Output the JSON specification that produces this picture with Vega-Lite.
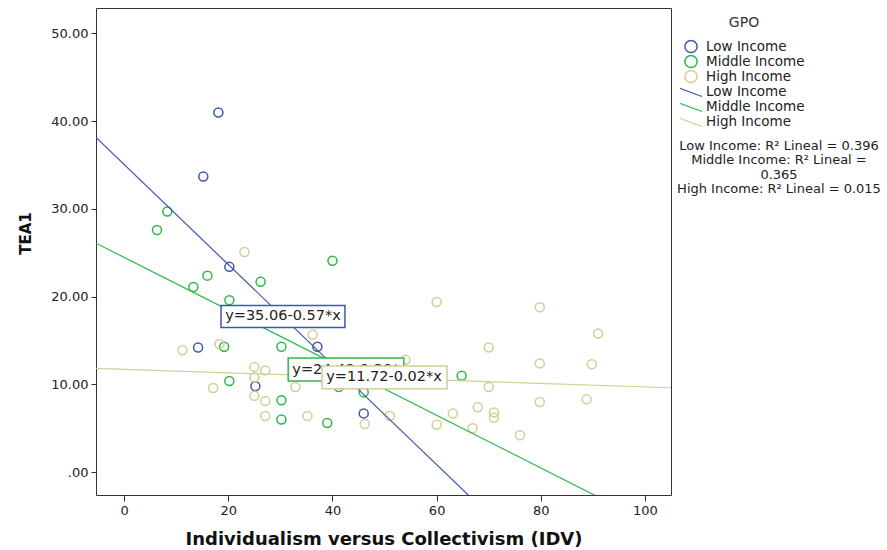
{
  "$schema": "https://vega.github.io/schema/vega-lite/v6.json",
  "width": 575,
  "height": 487,
  "autosize": "none",
  "padding": {"left": 96, "top": 8, "right": 216, "bottom": 55},
  "background": "white",
  "datasets": {
    "points": [
      {"GPO": "Low Income", "IDV": 18.1, "TEA1": 41.0},
      {"GPO": "Low Income", "IDV": 15.2, "TEA1": 33.7},
      {"GPO": "Low Income", "IDV": 20.2, "TEA1": 23.4},
      {"GPO": "Low Income", "IDV": 14.2, "TEA1": 14.2},
      {"GPO": "Low Income", "IDV": 25.2, "TEA1": 9.8},
      {"GPO": "Low Income", "IDV": 37.1, "TEA1": 14.3},
      {"GPO": "Low Income", "IDV": 46.0, "TEA1": 6.7},
      {"GPO": "Middle Income", "IDV": 8.3, "TEA1": 29.7},
      {"GPO": "Middle Income", "IDV": 6.3, "TEA1": 27.6},
      {"GPO": "Middle Income", "IDV": 16.0, "TEA1": 22.4},
      {"GPO": "Middle Income", "IDV": 13.3, "TEA1": 21.1},
      {"GPO": "Middle Income", "IDV": 26.2, "TEA1": 21.7},
      {"GPO": "Middle Income", "IDV": 20.2, "TEA1": 19.6},
      {"GPO": "Middle Income", "IDV": 40.0, "TEA1": 24.1},
      {"GPO": "Middle Income", "IDV": 19.2, "TEA1": 14.3},
      {"GPO": "Middle Income", "IDV": 30.2, "TEA1": 14.3},
      {"GPO": "Middle Income", "IDV": 20.2, "TEA1": 10.4},
      {"GPO": "Middle Income", "IDV": 30.2, "TEA1": 8.2},
      {"GPO": "Middle Income", "IDV": 30.2, "TEA1": 6.0},
      {"GPO": "Middle Income", "IDV": 39.0, "TEA1": 5.6},
      {"GPO": "Middle Income", "IDV": 64.8, "TEA1": 11.0},
      {"GPO": "Middle Income", "IDV": 46.0, "TEA1": 9.1},
      {"GPO": "Middle Income", "IDV": 41.2, "TEA1": 9.7},
      {"GPO": "High Income", "IDV": 23.1, "TEA1": 25.1},
      {"GPO": "High Income", "IDV": 11.2, "TEA1": 13.9},
      {"GPO": "High Income", "IDV": 18.3, "TEA1": 14.6},
      {"GPO": "High Income", "IDV": 25.0, "TEA1": 12.0},
      {"GPO": "High Income", "IDV": 27.1, "TEA1": 11.6},
      {"GPO": "High Income", "IDV": 25.0, "TEA1": 10.8},
      {"GPO": "High Income", "IDV": 25.0, "TEA1": 8.7},
      {"GPO": "High Income", "IDV": 27.1, "TEA1": 8.1},
      {"GPO": "High Income", "IDV": 17.1, "TEA1": 9.6},
      {"GPO": "High Income", "IDV": 27.1, "TEA1": 6.4},
      {"GPO": "High Income", "IDV": 32.9, "TEA1": 9.7},
      {"GPO": "High Income", "IDV": 36.2, "TEA1": 15.7},
      {"GPO": "High Income", "IDV": 35.2, "TEA1": 6.4},
      {"GPO": "High Income", "IDV": 46.2, "TEA1": 5.5},
      {"GPO": "High Income", "IDV": 51.0, "TEA1": 6.4},
      {"GPO": "High Income", "IDV": 54.0, "TEA1": 12.8},
      {"GPO": "High Income", "IDV": 60.0, "TEA1": 19.4},
      {"GPO": "High Income", "IDV": 63.1, "TEA1": 6.7},
      {"GPO": "High Income", "IDV": 60.0, "TEA1": 5.4},
      {"GPO": "High Income", "IDV": 66.9, "TEA1": 5.0},
      {"GPO": "High Income", "IDV": 79.8, "TEA1": 18.8},
      {"GPO": "High Income", "IDV": 91.0, "TEA1": 15.8},
      {"GPO": "High Income", "IDV": 70.0, "TEA1": 14.2},
      {"GPO": "High Income", "IDV": 79.8, "TEA1": 12.4},
      {"GPO": "High Income", "IDV": 89.8, "TEA1": 12.3},
      {"GPO": "High Income", "IDV": 70.0, "TEA1": 9.7},
      {"GPO": "High Income", "IDV": 79.8, "TEA1": 8.0},
      {"GPO": "High Income", "IDV": 88.8, "TEA1": 8.3},
      {"GPO": "High Income", "IDV": 67.9, "TEA1": 7.4},
      {"GPO": "High Income", "IDV": 71.0, "TEA1": 6.8},
      {"GPO": "High Income", "IDV": 71.0, "TEA1": 6.2},
      {"GPO": "High Income", "IDV": 76.0, "TEA1": 4.2}
    ],
    "fits": [
      {"Fit": "Low Income (fit)", "IDV": -5.4, "TEA1": 38.14},
      {"Fit": "Low Income (fit)", "IDV": 105, "TEA1": -24.79},
      {"Fit": "Middle Income (fit)", "IDV": -5.4, "TEA1": 26.10},
      {"Fit": "Middle Income (fit)", "IDV": 105, "TEA1": -7.02},
      {"Fit": "High Income (fit)", "IDV": -5.4, "TEA1": 11.83},
      {"Fit": "High Income (fit)", "IDV": 105, "TEA1": 9.62}
    ],
    "labels": [
      {"GPO": "Low Income", "eq": "y=35.06-0.57*x", "x0": 18.6, "x1": 42.4, "y0": 16.5, "y1": 19.0, "tx": 19.4, "ty": 17.75},
      {"GPO": "Middle Income", "eq": "y=24.48-0.30*x", "x0": 31.5, "x1": 53.7, "y0": 10.4, "y1": 13.0, "tx": 32.3, "ty": 11.7},
      {"GPO": "High Income", "eq": "y=11.72-0.02*x", "x0": 38.0, "x1": 62.0, "y0": 9.5, "y1": 12.1, "tx": 38.8, "ty": 10.8}
    ],
    "r2": [
      {"R2": "Low Income: R² Lineal = 0.396"},
      {"R2": "Middle Income: R² Lineal = 0.365"},
      {"R2": "High Income: R² Lineal = 0.015"}
    ]
  },
  "config": {
    "font": "DejaVu Sans",
    "view": {"stroke": "#333", "strokeWidth": 1},
    "axis": {
      "domain": false,
      "grid": false,
      "tickColor": "#333",
      "labelColor": "#222",
      "labelFontSize": 13,
      "titleColor": "#111",
      "titleFontWeight": "bold"
    },
    "legend": {
      "padding": 0,
      "labelFontSize": 13.5,
      "labelColor": "#222",
      "titleFontSize": 14,
      "titleFontWeight": "normal",
      "titleColor": "#333",
      "rowPadding": 1.5
    }
  },
  "layer": [
    {
      "data": {"name": "points"},
      "mark": {"type": "point", "shape": "circle", "filled": false, "strokeWidth": 1.5, "size": 81, "opacity": 1},
      "encoding": {
        "x": {
          "field": "IDV", "type": "quantitative",
          "scale": {"domain": [-5.4, 105], "nice": false, "zero": false},
          "axis": {"title": "Individualism versus Collectivism (IDV)", "values": [0, 20, 40, 60, 80, 100], "tickSize": 6, "labelPadding": 3, "titleFontSize": 18, "titlePadding": 13}
        },
        "y": {
          "field": "TEA1", "type": "quantitative",
          "scale": {"domain": [-2.6, 52.9], "nice": false, "zero": false},
          "axis": {"title": "TEA1", "values": [0, 10, 20, 30, 40, 50], "tickSize": 5, "labelPadding": 3, "labelExpr": "datum.value == 0 ? '.00' : format(datum.value, '.2f')", "titleFontSize": 15, "titleX": -71, "titleY": 225, "titleAngle": 270, "titleAlign": "center", "titleBaseline": "middle"}
        },
        "color": {
          "field": "GPO", "type": "nominal",
          "scale": {"domain": ["Low Income", "Middle Income", "High Income"], "range": ["#3E58AC", "#2EB848", "#D3CE97"]},
          "legend": {"title": "GPO", "orient": "none", "legendX": 588, "legendY": 8, "symbolType": "circle", "symbolSize": 150, "symbolStrokeWidth": 1.5, "labelOffset": 8, "titlePadding": 9, "titleAnchor": "middle", "rowPadding": 0, "clipHeight": 15}
        }
      }
    },
    {
      "data": {"name": "fits"},
      "mark": {"type": "line", "strokeWidth": 1.2, "clip": true},
      "encoding": {
        "x": {"field": "IDV", "type": "quantitative"},
        "y": {"field": "TEA1", "type": "quantitative"},
        "stroke": {
          "field": "Fit", "type": "nominal",
          "scale": {"domain": ["Low Income (fit)", "Middle Income (fit)", "High Income (fit)"], "range": ["#3E58AC", "#2EB848", "#D3CE97"]},
          "legend": {"title": null, "orient": "none", "legendX": 584, "legendY": 76, "symbolType": "M-1.8,-0.67L1.8,0.67", "symbolSize": 225, "symbolStrokeWidth": 1.2, "labelOffset": 9, "rowPadding": 0, "clipHeight": 15, "labelExpr": "replace(datum.label, ' (fit)', '')"}
        }
      }
    },
    {
      "data": {"name": "labels"},
      "transform": [{"filter": "datum.GPO == 'Low Income'"}],
      "mark": {"type": "rect", "fill": "white", "strokeWidth": 1.5, "stroke": "#3E58AC"},
      "encoding": {
        "x": {"field": "x0", "type": "quantitative"},
        "x2": {"field": "x1"},
        "y": {"field": "y0", "type": "quantitative"},
        "y2": {"field": "y1"}
      }
    },
    {
      "data": {"name": "labels"},
      "transform": [{"filter": "datum.GPO == 'Low Income'"}],
      "mark": {"type": "text", "align": "left", "baseline": "middle", "fontSize": 14.5, "color": "#222"},
      "encoding": {
        "x": {"field": "tx", "type": "quantitative"},
        "y": {"field": "ty", "type": "quantitative"},
        "text": {"field": "eq"}
      }
    },
    {
      "data": {"name": "labels"},
      "transform": [{"filter": "datum.GPO == 'Middle Income'"}],
      "mark": {"type": "rect", "fill": "white", "strokeWidth": 1.5, "stroke": "#2EB848"},
      "encoding": {
        "x": {"field": "x0", "type": "quantitative"},
        "x2": {"field": "x1"},
        "y": {"field": "y0", "type": "quantitative"},
        "y2": {"field": "y1"}
      }
    },
    {
      "data": {"name": "labels"},
      "transform": [{"filter": "datum.GPO == 'Middle Income'"}],
      "mark": {"type": "text", "align": "left", "baseline": "middle", "fontSize": 14.5, "color": "#222"},
      "encoding": {
        "x": {"field": "tx", "type": "quantitative"},
        "y": {"field": "ty", "type": "quantitative"},
        "text": {"field": "eq"}
      }
    },
    {
      "data": {"name": "labels"},
      "transform": [{"filter": "datum.GPO == 'High Income'"}],
      "mark": {"type": "rect", "fill": "white", "strokeWidth": 1.5, "stroke": "#D3CE97"},
      "encoding": {
        "x": {"field": "x0", "type": "quantitative"},
        "x2": {"field": "x1"},
        "y": {"field": "y0", "type": "quantitative"},
        "y2": {"field": "y1"}
      }
    },
    {
      "data": {"name": "labels"},
      "transform": [{"filter": "datum.GPO == 'High Income'"}],
      "mark": {"type": "text", "align": "left", "baseline": "middle", "fontSize": 14.5, "color": "#222"},
      "encoding": {
        "x": {"field": "tx", "type": "quantitative"},
        "y": {"field": "ty", "type": "quantitative"},
        "text": {"field": "eq"}
      }
    },
    {
      "data": {"name": "r2"},
      "mark": {"type": "point", "opacity": 0},
      "encoding": {
        "shape": {
          "field": "R2", "type": "nominal",
          "scale": {"domain": ["Low Income: R² Lineal = 0.396", "Middle Income: R² Lineal = 0.365", "High Income: R² Lineal = 0.015"]},
          "legend": {"title": null, "orient": "none", "legendX": 580, "legendY": 131, "symbolSize": 0, "symbolOpacity": 0, "labelAlign": "center", "labelOffset": 90, "labelFontSize": 13, "labelLimit": 0, "rowPadding": 0, "labelExpr": "indexof(datum.label, 'Middle') == 0 ? ['Middle Income: R² Lineal =', '0.365'] : datum.label"}
        }
      }
    }
  ]
}
